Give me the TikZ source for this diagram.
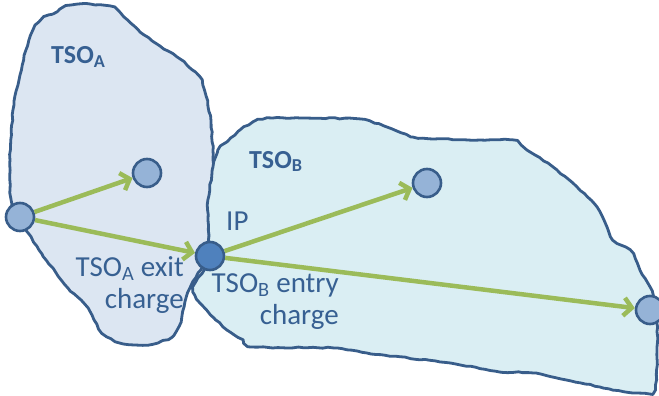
\documentclass[tikz,border=0pt]{standalone}
\usepackage{fontspec}
\setmainfont{Carlito}
\usetikzlibrary{arrows.meta,decorations.pathmorphing}
\definecolor{edgeblue}{RGB}{56,93,138}
\definecolor{textblue}{RGB}{55,96,146}
\definecolor{fillA}{RGB}{220,230,242}
\definecolor{fillB}{RGB}{218,238,243}
\definecolor{dotlight}{RGB}{149,179,215}
\definecolor{dotdark}{RGB}{79,129,189}
\definecolor{flow}{RGB}{155,187,89}
\begin{document}
\begin{tikzpicture}[x=1pt,y=-1pt,
  region/.style={draw=edgeblue, line width=2.8pt, line join=round,
    decorate, decoration={random steps, segment length=5pt, amplitude=0.6pt}},
  dot/.style={circle, minimum size=28pt, inner sep=0pt, draw=edgeblue, line width=2.6pt, fill=dotlight},
  ipdot/.style={dot, fill=dotdark},
  flowarrow/.style={draw=flow, line width=4.5pt, -{Straight Barb[length=8pt,width=18pt]}},
  zonelabel/.style={font=\fontsize{26}{30}\selectfont\bfseries, text=textblue, inner sep=0pt},
  note/.style={font=\fontsize{29}{32}\selectfont, text=textblue, inner sep=0pt, align=right}
]
\pgfmathsetseed{7}
\useasboundingbox (0,0) rectangle (659,396);

% zone A
\draw[region, fill=fillA] plot[smooth cycle, tension=0.3] coordinates {
  (44,17) (53,14) (60,9) (66,6) (80,4) (110,6) (120,13) (140,32) (160,46)
  (180,59) (199,76) (206,96) (211,122) (213,150) (213,180) (210,205)
  (209,240) (204,262) (198,273) (190,288) (185,302) (181,322) (172,337)
  (148,345) (120,343) (102,333) (88,308) (68,288) (42,254) (28,233)
  (14,218) (10,190) (10,160) (13,110) (20,75) (26,50) (33,30) (39,22)};

% zone B
\draw[region, fill=fillB] plot[smooth cycle, tension=0.3] coordinates {
  (218,150) (227,142) (240,130) (253,122) (267,118) (300,118) (360,119)
  (387,127) (413,137) (433,139) (480,140) (513,140) (527,150) (553,167)
  (577,187) (597,207) (607,227) (613,240) (630,250) (640,270) (650,287)
  (657,307) (657,350) (655,390) (633,393) (600,387) (533,373) (500,372)
  (450,363) (367,353) (333,348) (253,347) (243,340) (227,330) (214,318)
  (200,303) (193,292) (196,282) (205,268) (209,250) (208,220) (208,200)
  (213,167)};

% points
\node[dot]   (src) at (20,217) {};
\node[dot]   (a1)  at (147,173) {};
\node[ipdot] (ip)  at (210,256) {};
\node[dot]   (b1)  at (427,183) {};
\node[dot]   (b2)  at (650,310) {};

% flows
\draw[flowarrow] (src) -- (a1);
\draw[flowarrow] (src) -- (ip);
\draw[flowarrow] (ip) -- (b1);
\draw[flowarrow] (ip) -- (b2);

% labels
\node[zonelabel, anchor=base west] (la) at (51,64) {TSO\textsubscript{A}};
\node[zonelabel, anchor=base west] (lb) at (249,168) {TSO\textsubscript{B}};
\node[note, anchor=base west] (lip) at (226,230) {IP};
\node[note, anchor=north east] (lexit) at (184,256) {TSO\textsubscript{A} exit\\charge};
\node[note, anchor=north east] (lentry) at (339,273) {TSO\textsubscript{B} entry\\charge};
\end{tikzpicture}
\end{document}
